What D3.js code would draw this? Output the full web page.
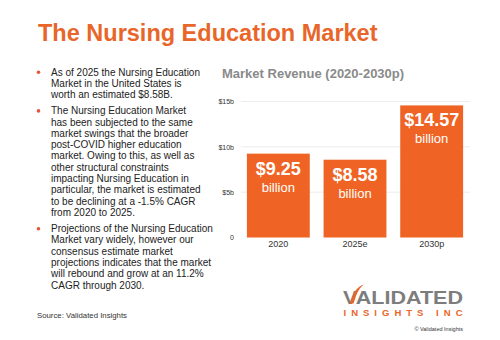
<!DOCTYPE html>
<html>
<head>
<meta charset="utf-8">
<script src="https://cdn.jsdelivr.net/npm/d3@7"></script>
<style>
  body { margin: 0; background: #fff; }
  svg { display: block; font-family: "Liberation Sans", Arial, sans-serif; }
</style>
</head>
<body>
<script>
// data
const years = ["2020", "2025e", "2030p"];
const revenue = [9.25, 8.58, 14.57];
const valueLabels = ["$9.25", "$8.58", "$14.57"];
const yTicks = [0, 5, 10, 15];
const yTickLabels = ["0", "$5b", "$10b", "$15b"];

const bullets = [
  ["As of 2025 the Nursing Education", "Market in the United States is", "worth an estimated $8.58B."],
  ["The Nursing Education Market", "has been subjected to the same", "market swings that the broader",
   "post-COVID higher education", "market. Owing to this, as well as", "other structural constraints",
   "impacting Nursing Education in", "particular, the market is estimated",
   "to be declining at a -1.5% CAGR", "from 2020 to 2025."],
  ["Projections of the Nursing Education", "Market vary widely, however our",
   "consensus estimate market", "projections indicates that the market",
   "will rebound and grow at an 11.2%", "CAGR through 2030."]
];

const orange = "#ef6424";
const W = 500, H = 340;

const svg = d3.select("body").append("svg")
  .attr("width", W)
  .attr("height", H);

// main title
svg.append("text")
  .attr("x", 38).attr("y", 41)
  .style("font-size", "23.5px").style("font-weight", "bold")
  .style("fill", "#e8662a")
  .text("The Nursing Education Market");

// bullet text
const lineH = 11.3;
let yy = 75.5;
bullets.forEach(function (lines) {
  svg.append("circle")
    .attr("cx", 38.5).attr("cy", yy - 3.3).attr("r", 1.8)
    .style("fill", "#e8543a");
  lines.forEach(function (l, i) {
    svg.append("text")
      .attr("x", 51).attr("y", yy + i * lineH)
      .style("font-size", "10px").style("fill", "#222")
      .text(l);
  });
  yy += lines.length * lineH + 4.8;
});

svg.append("text")
  .attr("x", 37).attr("y", 317.5)
  .style("font-size", "7.8px").style("fill", "#333")
  .text("Source: Validated Insights");

// chart
svg.append("text")
  .attr("x", 222).attr("y", 78)
  .style("font-size", "13px").style("font-weight", "bold")
  .style("fill", "#8a8a8a")
  .text("Market Revenue (2020-2030p)");

const x = d3.scaleBand().domain(years).range([240, 470])
  .paddingInner(0.18).paddingOuter(0.09);
const y = d3.scaleLinear().domain([0, 15]).range([237.5, 101.5]);

const g = svg.append("g");

// gridlines
g.selectAll(".grid")
  .data(yTicks.slice(1))
  .enter().append("line")
  .attr("x1", 241).attr("x2", 470)
  .attr("y1", d => y(d)).attr("y2", d => y(d))
  .style("stroke", "#ececec").style("stroke-width", 1);

const yAxis = d3.axisLeft(y).tickValues(yTicks)
  .tickFormat((d, i) => yTickLabels[i]).tickSize(0).tickPadding(0);
const ya = g.append("g").attr("transform", "translate(234,0)").call(yAxis);
ya.select(".domain").remove();
ya.selectAll("text").style("font-size", "7px").style("fill", "#333")
  .style("font-family", "'Liberation Sans', Arial, sans-serif");

const xAxis = d3.axisBottom(x).tickSize(0).tickPadding(0);
const xa = g.append("g").attr("transform", "translate(0,241)").call(xAxis);
xa.select(".domain").remove();
xa.selectAll("text").style("font-size", "9px").style("fill", "#333")
  .style("font-family", "'Liberation Sans', Arial, sans-serif");

g.selectAll(".bar")
  .data(revenue)
  .enter().append("rect")
  .attr("x", (d, i) => x(years[i]))
  .attr("width", x.bandwidth())
  .attr("y", d => y(d))
  .attr("height", d => y(0) - y(d))
  .style("fill", orange);

g.selectAll(".val")
  .data(revenue)
  .enter().append("text")
  .attr("x", (d, i) => x(years[i]) + x.bandwidth() / 2)
  .attr("y", d => y(d) + 21)
  .attr("text-anchor", "middle")
  .style("font-size", "18px").style("font-weight", "bold").style("fill", "#fff")
  .text((d, i) => valueLabels[i]);

g.selectAll(".unit")
  .data(revenue)
  .enter().append("text")
  .attr("x", (d, i) => x(years[i]) + x.bandwidth() / 2)
  .attr("y", d => y(d) + 38)
  .attr("text-anchor", "middle")
  .style("font-size", "13px").style("fill", "#fff")
  .text("billion");

// logo
const logo = svg.append("g");
logo.append("text")
  .attr("x", 343).attr("y", 303.5)
  .attr("textLength", 120).attr("lengthAdjust", "spacingAndGlyphs")
  .style("font-size", "18px").style("font-weight", "bold").style("fill", "#7d7d7d")
  .text("VALIDATED");
logo.append("path")
  .attr("d", "M349.5,303.5 L355.5,290.5 Q359,286 364,284.5 Q358.5,288.5 356,296 L353.5,303.5 Z")
  .style("fill", "#e8662a");
logo.append("text")
  .attr("x", 343.5).attr("y", 315.5)
  .attr("textLength", 119).attr("lengthAdjust", "spacing")
  .style("font-size", "9.5px").style("font-weight", "bold").style("fill", "#e8662a")
  .text("INSIGHTS INC");
logo.append("text")
  .attr("x", 463).attr("y", 331)
  .attr("text-anchor", "end")
  .style("font-size", "5.5px").style("fill", "#333")
  .text("© Validated Insights");
</script>
</body>
</html>
